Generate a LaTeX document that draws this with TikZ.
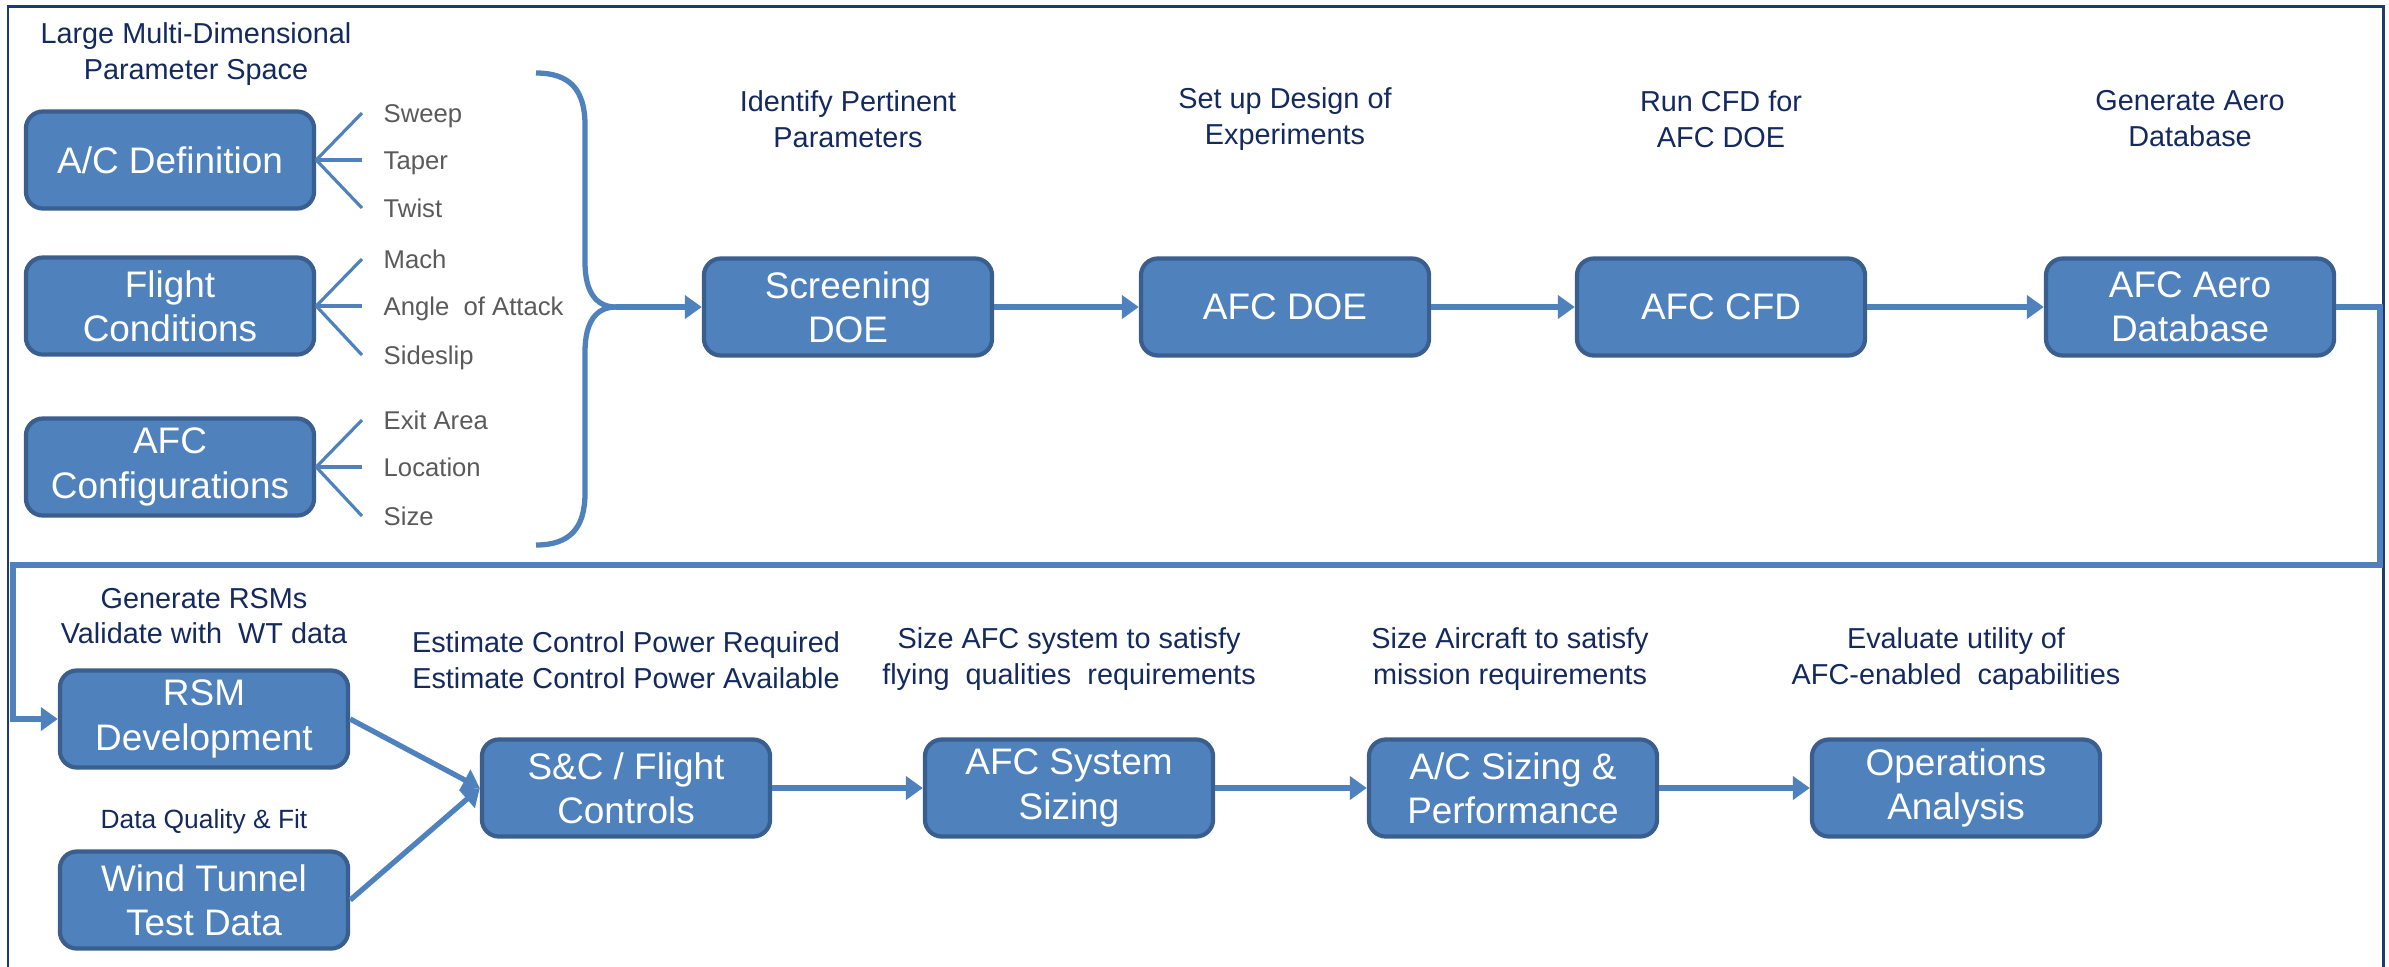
\documentclass[tikz,border=0pt]{standalone}
\usepackage{fontspec}
\setmainfont{Liberation Sans}
\usetikzlibrary{arrows.meta}
\definecolor{boxfill}{HTML}{4F81BD}
\definecolor{boxdraw}{HTML}{3A5F8E}
\definecolor{navy}{HTML}{14295E}
\definecolor{graytxt}{HTML}{5A5A5A}
\definecolor{framecol}{HTML}{1F3A70}
\begin{document}
\begin{tikzpicture}[x=0.01cm,y=-0.01cm,
  box/.style={draw=boxdraw, line width=1.2pt, fill=boxfill, rounded corners=0.17cm,
    minimum width=2.88cm, minimum height=0.97cm, text=white,
    font=\fontsize{10.5}{12.6}\selectfont, align=center, inner sep=0pt},
  hdr/.style={text=navy, font=\fontsize{8.2}{10.2}\selectfont, align=center, inner sep=0pt},
  plbl/.style={text=graytxt, font=\fontsize{7.3}{9}\selectfont, anchor=west, inner sep=0pt,
    text height=5.2pt, text depth=0pt},
  conn/.style={draw=boxfill, line width=1.5pt, -{Triangle[length=0.17cm,width=0.23cm]}},
  bline/.style={draw=boxfill, line width=1.5pt},
  fan/.style={draw=boxfill, line width=0.9pt}]

\useasboundingbox (0,0) rectangle (2389,966);
\draw[framecol, line width=0.85pt] (8,970) -- (8,6) -- (2383,6) -- (2383,970);

% title
\node[hdr] (title) at (196,54) {Large Multi-Dimensional\\Parameter Space};

% left boxes
\node[box] (acdef) at (170,160) {A/C Definition};
\node[box] (flight) at (170,306) {Flight\\Conditions};
\node[box] (afcconf) at (170,467) {AFC\\Configurations};

% parameter labels
\node[plbl] (sweep) at (383,113) {Sweep};
\node[plbl] (taper) at (383,160) {Taper};
\node[plbl] (twist) at (383,208) {Twist};
\node[plbl] (mach) at (383,259) {Mach};
\node[plbl] (aoa) at (383,306) {Angle\ \ of Attack};
\node[plbl] (side) at (383,355) {Sideslip};
\node[plbl] (exit) at (383,420) {Exit Area};
\node[plbl] (loc) at (383,467) {Location};
\node[plbl] (size) at (383,516) {Size};

\foreach \b/\l in {acdef/sweep,acdef/taper,acdef/twist,flight/mach,flight/aoa,flight/side,afcconf/exit,afcconf/loc,afcconf/size}
  \draw[fan] (\b.east) -- ([xshift=-0.21cm]\l.west);

% top row
\node[box] (screen) at (848,307) {Screening\\DOE};
\node[box] (afcdoe) at (1285,307) {AFC DOE};
\node[box] (afccfd) at (1721,307) {AFC CFD};
\node[box] (aero) at (2190,307) {AFC Aero\\Database};

\node[hdr] (h1) at (848,119) {Identify Pertinent\\Parameters};
\node[hdr] (h2) at (1285,119) {Set up Design of\\Experiments};
\node[hdr] (h3) at (1721,119) {Run CFD for\\AFC DOE};
\node[hdr] (h4) at (2190,119) {Generate Aero\\Database};

% brace
\coordinate (btop) at (536,73);
\coordinate (bbot) at (536,545);
\coordinate (btip) at (616,307);
\draw[bline] (btop) .. controls (570,73) and (585,90) .. (585,125) -- (585,262)
   .. controls (585,292) and (596,307) .. (btip);
\draw[bline] (bbot) .. controls (570,545) and (585,528) .. (585,493) -- (585,352)
   .. controls (585,322) and (596,307) .. (btip);
\draw[conn] (btip) -- (screen.west);

\draw[conn] (screen) -- (afcdoe);
\draw[conn] (afcdoe) -- (afccfd);
\draw[conn] (afccfd) -- (aero);

% bottom row
\node[box] (rsm) at (204,719) {RSM\\Development};
\node[box] (wt) at (204,900) {Wind Tunnel\\Test Data};
\node[box] (sc) at (626,788) {S\&C / Flight\\Controls};
\node[box] (sys) at (1069,788) {AFC System\\Sizing};
\node[box] (acs) at (1513,788) {A/C Sizing \&\\Performance};
\node[box] (ops) at (1956,788) {Operations\\Analysis};

\node[hdr] (h5) at (204,616) {Generate RSMs\\Validate with\ \ WT data};
\node[hdr, font=\fontsize{7.5}{9.5}\selectfont] (h6) at (204,822) {Data Quality \& Fit};
\node[hdr] (h7) at (626,660) {Estimate Control Power Required\\Estimate Control Power Available};
\node[hdr] (h8) at (1069,659) {Size AFC system to satisfy\\flying\ \ qualities\ \ requirements};
\node[hdr] (h9) at (1510,659) {Size Aircraft to satisfy\\mission requirements};
\node[hdr] (h10) at (1956,659) {Evaluate utility of\\AFC-enabled\ \ capabilities};

% feedback connector
\coordinate (rt) at (2380,565);
\coordinate (lf) at (13,565);
\draw[conn] (aero.east) -| (rt) -- (lf) |- (rsm.west);

\draw[conn] (rsm.east) -- (sc.west);
\draw[conn] (wt.east) -- (sc.west);
\draw[conn] (sc) -- (sys);
\draw[conn] (sys) -- (acs);
\draw[conn] (acs) -- (ops);
\end{tikzpicture}
\end{document}
